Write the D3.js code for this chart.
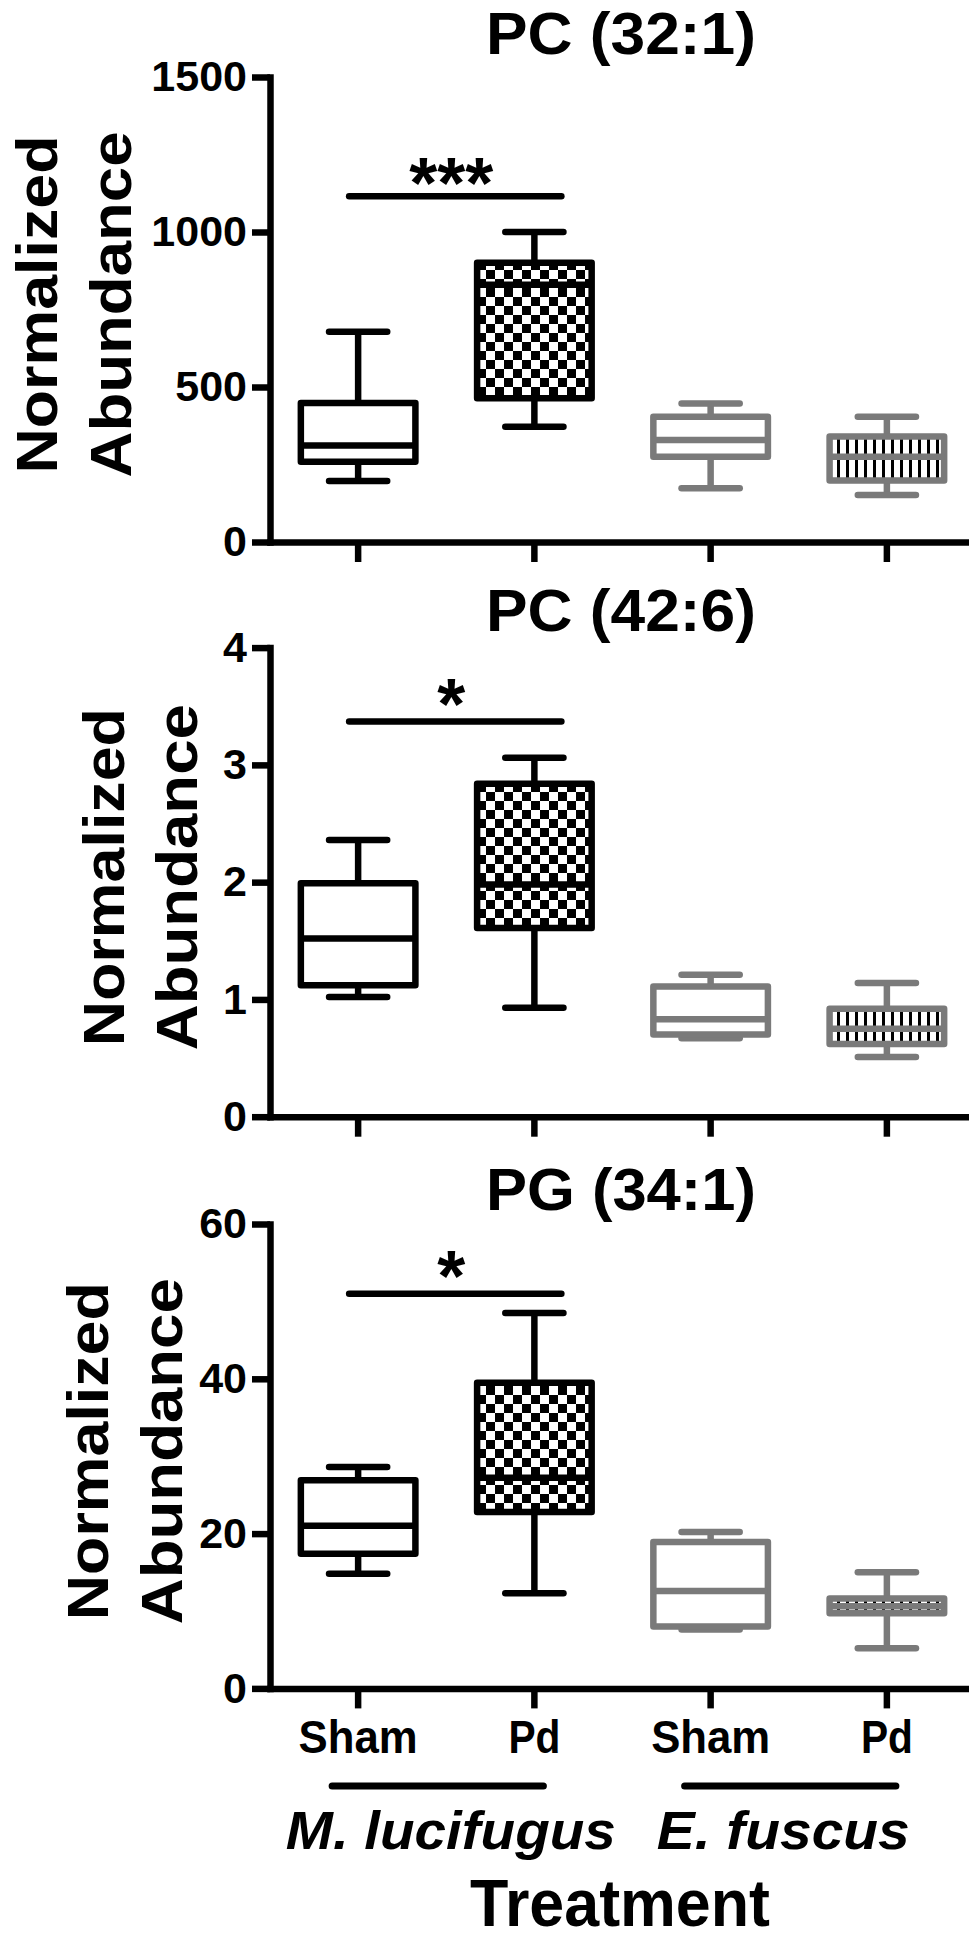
<!DOCTYPE html>
<html>
<head>
<meta charset="utf-8">
<script src="https://cdn.jsdelivr.net/npm/d3@7"></script>
<style>
body { margin: 0; background: #fff; }
svg text { font-family: "Liberation Sans", Arial, sans-serif; font-weight: bold; fill: #000; }
</style>
</head>
<body>
<script>
// Groups along the x axis
var groups = ["M-Sham", "M-Pd", "E-Sham", "E-Pd"];
var groupLabels = ["Sham", "Pd", "Sham", "Pd"];
var species = ["M. lucifugus", "E. fuscus"];

// Panel titles and y ticks
var titles = ["PC (32:1)", "PC (42:6)", "PG (34:1)"];
var yTicks = [[0, 500, 1000, 1500], [0, 1, 2, 3, 4], [0, 20, 40, 60]];
var yMax = [1500, 4, 60];

// [low whisker, q1, median, q3, high whisker] for each group
var pc321 = [[197, 259, 311, 448, 678], [372, 464, 830, 901, 1000], [173, 275, 329, 404, 447], [152, 198, 275, 340, 404]];
var pc426 = [[1.02, 1.12, 1.52, 1.99, 2.36], [0.93, 1.61, 1.98, 2.84, 3.06], [0.67, 0.70, 0.83, 1.11, 1.21], [0.51, 0.62, 0.75, 0.92, 1.14]];
var pg341 = [[14.8, 17.4, 21.0, 26.9, 28.6], [12.3, 22.8, 27.2, 39.5, 48.5], [7.6, 8.0, 12.6, 18.9, 20.2], [5.2, 9.7, 10.6, 11.6, 15.0]];
var panelData = [pc321, pc426, pg341];

// significance bar between Sham and Pd (M. lucifugus)
var sigLevel = [1115, 3.37, 51];
var sigStars = ["***", "*", "*"];

var svgWidth = 969, svgHeight = 1945;
var axisLeftX = 270;
var panelY = [[77, 542], [647.6, 1116.7], [1224, 1688.4]];
var titleY = [54, 631, 1210];
var starDy = [12, 8, 7];
var yLabelX = [[57, 131], [124, 197], [108, 182]];
var strokeW = 6.5;
var gray = "#7a7a7a";

var strokes = ["#000", "#000", gray, gray];
var fills = ["#fff", "url(#checker)", "#fff", "url(#stripes)"];

var svg = d3.select("body")
            .append("svg")
            .attr("width", svgWidth)
            .attr("height", svgHeight);

// fill patterns
var defs = svg.append("defs");
var checker = defs.append("pattern")
                  .attr("id", "checker")
                  .attr("patternUnits", "userSpaceOnUse")
                  .attr("width", 18).attr("height", 18);
checker.append("rect").attr("width", 18).attr("height", 18).attr("fill", "#fff");
checker.append("rect").attr("width", 9).attr("height", 9).attr("fill", "#000");
checker.append("rect").attr("x", 9).attr("y", 9).attr("width", 9).attr("height", 9).attr("fill", "#000");

var stripes = defs.append("pattern")
                  .attr("id", "stripes")
                  .attr("patternUnits", "userSpaceOnUse")
                  .attr("width", 9).attr("height", 9);
stripes.append("rect").attr("width", 9).attr("height", 9).attr("fill", "#fff");
stripes.append("rect").attr("width", 3).attr("height", 9).attr("fill", "#000");

var x = d3.scaleBand().domain(groups).range([axisLeftX, 975]).padding(0);
var bw = x.bandwidth();
var cx = g => x(g) + bw / 2;
var boxW = bw * 0.65;
var capW = bw * 0.33;

panelData.forEach(function(data, p) {
    var y = d3.scaleLinear().domain([0, yMax[p]]).range([panelY[p][1], panelY[p][0]]);
    var chart = svg.append("g");

    // title
    chart.append("text")
         .attr("x", 621)
         .attr("y", titleY[p])
         .attr("text-anchor", "middle")
         .attr("font-size", 60)
         .attr("textLength", 270)
         .attr("lengthAdjust", "spacingAndGlyphs")
         .text(titles[p]);

    // y axis label, two lines
    var yc = (panelY[p][0] + panelY[p][1]) / 2 - 5;
    ["Normalized", "Abundance"].forEach(function(t, i) {
        chart.append("text")
             .attr("transform", `translate(${yLabelX[p][i]}, ${yc}) rotate(-90)`)
             .attr("text-anchor", "middle")
             .attr("font-size", 58)
             .attr("textLength", i == 0 ? 338 : 346)
             .attr("lengthAdjust", "spacingAndGlyphs")
             .text(t);
    });

    // axes
    var leftAxis = d3.axisLeft(y).tickValues(yTicks[p]).tickFormat(d3.format("d"))
                     .tickSize(18).tickSizeOuter(0).tickPadding(5);
    var yAxisG = chart.append("g")
                      .attr("transform", `translate(${axisLeftX}, 0)`)
                      .call(leftAxis);
    yAxisG.selectAll("text").attr("font-size", 43);

    var bottomAxis = d3.axisBottom(x).tickSize(20).tickSizeOuter(0).tickPadding(12)
                       .tickFormat((d, i) => p == 2 ? groupLabels[i] : "");
    var xAxisG = chart.append("g")
                      .attr("transform", `translate(0, ${panelY[p][1]})`)
                      .call(bottomAxis);
    if (p == 2) {
        xAxisG.selectAll("text")
              .attr("font-size", 46)
              .attr("dy", "0.71em")
              .attr("textLength", (d, i) => groupLabels[i] == "Sham" ? 119 : 52)
              .attr("lengthAdjust", "spacingAndGlyphs");
    }

    [yAxisG, xAxisG].forEach(function(a) {
        a.attr("font-family", null);
        a.selectAll("path, line").attr("stroke", "#000").attr("stroke-width", strokeW);
        a.select(".domain").attr("stroke-linecap", "square");
    });

    // boxes
    data.forEach(function(d, i) {
        var g = groups[i];
        var box = chart.append("g").attr("stroke", strokes[i]).attr("stroke-width", strokeW).attr("fill", "none");
        // whiskers
        box.append("line").attr("x1", cx(g)).attr("x2", cx(g)).attr("y1", y(d[3])).attr("y2", y(d[4]));
        box.append("line").attr("x1", cx(g)).attr("x2", cx(g)).attr("y1", y(d[1])).attr("y2", y(d[0]));
        [d[0], d[4]].forEach(function(v) {
            box.append("line")
               .attr("x1", cx(g) - capW / 2).attr("x2", cx(g) + capW / 2)
               .attr("y1", y(v)).attr("y2", y(v))
               .attr("stroke-linecap", "round");
        });
        box.append("rect")
           .attr("x", cx(g) - boxW / 2)
           .attr("y", y(d[3]))
           .attr("width", boxW)
           .attr("height", y(d[1]) - y(d[3]))
           .attr("fill", fills[i])
           .attr("stroke-linejoin", "round");
        box.append("line")
           .attr("x1", cx(g) - boxW / 2).attr("x2", cx(g) + boxW / 2)
           .attr("y1", y(d[2])).attr("y2", y(d[2]));
    });

    // significance bar and stars
    var x0 = cx(groups[0]) - 9, x1 = cx(groups[1]) + 27;
    chart.append("line")
         .attr("x1", x0).attr("x2", x1)
         .attr("y1", y(sigLevel[p])).attr("y2", y(sigLevel[p]))
         .attr("stroke", "#000").attr("stroke-width", strokeW).attr("stroke-linecap", "round");
    chart.append("text")
         .attr("x", (x0 + x1) / 2 - 4)
         .attr("y", y(sigLevel[p]) + starDy[p])
         .attr("text-anchor", "middle")
         .attr("font-size", 72)
         .text(sigStars[p]);
});

// species brackets under the bottom panel
var speciesLines = [[groups[0], groups[1]], [groups[2], groups[3]]];
var speciesNudge = [13, -7];
var speciesLen = [330, 253];
speciesLines.forEach(function(pair, i) {
    var a = cx(pair[0]) - 26, b = cx(pair[1]) + 9;
    svg.append("line")
       .attr("x1", a).attr("x2", b)
       .attr("y1", 1786).attr("y2", 1786)
       .attr("stroke", "#000").attr("stroke-width", 7).attr("stroke-linecap", "round");
    svg.append("text")
       .attr("x", (a + b) / 2 + speciesNudge[i])
       .attr("y", 1849)
       .attr("text-anchor", "middle")
       .attr("font-size", 54)
       .attr("font-style", "italic")
       .attr("textLength", speciesLen[i])
       .attr("lengthAdjust", "spacingAndGlyphs")
       .text(species[i]);
});

svg.append("text")
   .attr("x", 620)
   .attr("y", 1926)
   .attr("text-anchor", "middle")
   .attr("font-size", 66)
   .attr("textLength", 300)
   .attr("lengthAdjust", "spacingAndGlyphs")
   .text("Treatment");
</script>
</body>
</html>
